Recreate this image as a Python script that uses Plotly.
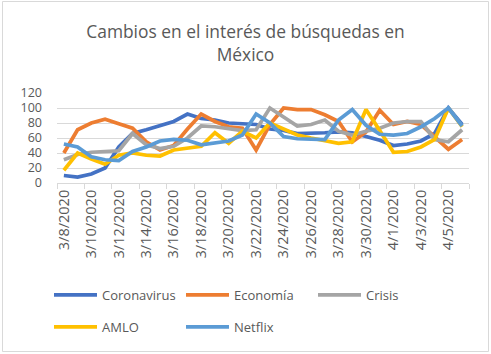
import plotly.graph_objects as go

dates = ["3/8/2020", "3/9/2020", "3/10/2020", "3/11/2020", "3/12/2020", "3/13/2020",
         "3/14/2020", "3/15/2020", "3/16/2020", "3/17/2020", "3/18/2020", "3/19/2020",
         "3/20/2020", "3/21/2020", "3/22/2020", "3/23/2020", "3/24/2020", "3/25/2020",
         "3/26/2020", "3/27/2020", "3/28/2020", "3/29/2020", "3/30/2020", "3/31/2020",
         "4/1/2020", "4/2/2020", "4/3/2020", "4/4/2020", "4/5/2020", "4/6/2020"]

coronavirus = [10, 8, 12, 20, 48, 66, 71, 76, 82, 92, 86, 84, 80, 79, 78, 72, 70, 66, 66, 67,
               68, 67, 62, 57, 50, 52, 56, 66, 100, 78]
economia = [40, 71, 80, 85, 79, 73, 55, 44, 50, 72, 92, 82, 75, 73, 44, 78, 100, 98, 98, 91,
            82, 55, 68, 97, 78, 82, 78, 62, 45, 58]
crisis = [31, 38, 41, 42, 43, 66, 51, 46, 49, 60, 76, 75, 73, 70, 71, 100, 88, 76, 78, 84,
          69, 64, 69, 73, 80, 82, 82, 58, 55, 71]
amlo = [17, 40, 32, 25, 37, 40, 37, 36, 44, 47, 49, 67, 53, 69, 60, 80, 72, 64, 60, 56,
        53, 55, 98, 70, 41, 42, 48, 58, 100, 75]
netflix = [52, 48, 35, 31, 30, 42, 48, 56, 58, 57, 51, 53, 56, 64, 92, 80, 62, 59, 58, 58,
           84, 98, 77, 65, 64, 66, 75, 86, 100, 76]

series = [("Coronavirus", coronavirus, "#4472C4", "legend"),
          ("Economía", economia, "#ED7D31", "legend"),
          ("Crisis", crisis, "#A5A5A5", "legend"),
          ("AMLO", amlo, "#FFC000", "legend2"),
          ("Netflix", netflix, "#5B9BD5", "legend2")]

y_ticks = [0, 20, 40, 60, 80, 100, 120]
label_every = 2

xs = list(range(len(dates)))
fig = go.Figure()
for name, vals, color, lg in series:
    fig.add_trace(go.Scatter(x=xs, y=vals, name=name, mode="lines",
                             line=dict(color=color, width=3.75), legend=lg))

FONT = "Open Sans"
TXT = "#595959"
W, H = 491, 354
ML, MR, MT, MB = 57, 22, 93, 171
pw = W - ML - MR
ph = H - MT - MB

def px_x(p):
    return (p - ML) / pw

def px_y(p):
    return (H - MB - p) / ph

legend_common = dict(orientation="h", xanchor="left", yanchor="middle",
                     entrywidth=74, entrywidthmode="pixels", itemwidth=43,
                     font=dict(size=13, color=TXT), bgcolor="rgba(0,0,0,0)")

fig.update_layout(
    width=W, height=H,
    margin=dict(l=ML, r=MR, t=MT, b=MB),
    paper_bgcolor="white", plot_bgcolor="white",
    font=dict(family=FONT, color=TXT, size=14),
    title=dict(text="Cambios en el interés de búsquedas en<br>México",
               x=0.5, xref="container", xanchor="center",
               y=1 - 38 / H, yref="container", yanchor="top",
               font=dict(family=FONT, size=17.4, color=TXT)),
    xaxis=dict(range=[-0.5, len(dates) - 0.5],
               tickmode="array",
               tickvals=xs[::label_every], ticktext=dates[::label_every],
               tickangle=-90, ticks="", showgrid=False, zeroline=False,
               showline=True, linecolor="#D9D9D9", linewidth=1,
               tickfont=dict(size=14.5, color=TXT),
               minor=dict(tickmode="array",
                          tickvals=[i - 0.5 for i in range(0, len(dates) + 1, label_every)],
                          ticks="outside", ticklen=5, tickcolor="#D9D9D9", tickwidth=1,
                          showgrid=False)),
    yaxis=dict(range=[0, 120], tickmode="array", tickvals=y_ticks,
               showgrid=True, gridcolor="#D9D9D9", gridwidth=1, zeroline=False,
               showline=False, ticks="", ticklabelstandoff=14,
               tickfont=dict(size=12.5, color=TXT)),
    legend=dict(x=px_x(49), y=px_y(295), **legend_common),
    legend2=dict(x=px_x(49), y=px_y(327), **legend_common),
    shapes=[dict(type="rect", xref="paper", yref="paper",
                 x0=px_x(2.5), x1=px_x(488.5), y0=px_y(351.5), y1=px_y(1.5),
                 line=dict(color="#D9D9D9", width=1), fillcolor="rgba(0,0,0,0)",
                 layer="below")],
)

fig.write_html("out.html")
